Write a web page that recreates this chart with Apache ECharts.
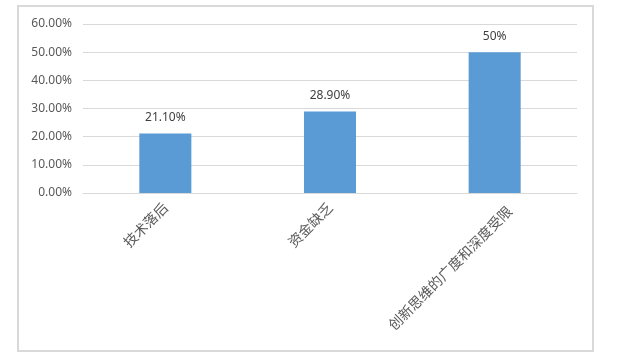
<!DOCTYPE html>
<html>
<head>
<meta charset="utf-8">
<script src="https://cdn.jsdelivr.net/npm/echarts@6/dist/echarts.min.js"></script>
<style>
html,body{margin:0;padding:0;background:#fff;}
#c{width:618px;height:357px;}
</style>
</head>
<body>
<div id="c"></div>
<script>
var categories = ['技术落后', '资金缺乏', '创新思维的广度和深度受限'];
var values = [0.211, 0.289, 0.5];
var valueLabels = ['21.10%', '28.90%', '50%'];
var yTicks = { min: 0, max: 0.6, interval: 0.1 };

var chart = echarts.init(document.getElementById('c'));
chart.setOption({
  animation: false,
  backgroundColor: '#fff',
  graphic: [{
    type: 'rect',
    shape: { x: 18, y: 6, width: 575, height: 345 },
    style: { fill: 'none', stroke: '#d9d9d9', lineWidth: 2 },
    silent: true
  }],
  grid: { left: 83, right: 41, top: 24, bottom: 164, containLabel: false },
  xAxis: {
    type: 'category',
    data: categories,
    axisLine: { lineStyle: { color: '#d9d9d9', width: 1 } },
    axisTick: { show: false },
    axisLabel: {
      rotate: 45,
      interval: 0,
      margin: 12,
      color: '#595959',
      fontSize: 14,
      fontFamily: 'Noto Sans CJK SC',
      formatter: function (v, i) {
        return i === 2 ? '{s|' + v + '}' : v;
      },
      rich: {
        s: {
          color: '#595959',
          fontSize: 14,
          fontFamily: 'Noto Sans CJK SC',
          padding: [26, -8, 0, 0]
        }
      }
    }
  },
  yAxis: {
    type: 'value',
    min: yTicks.min,
    max: yTicks.max,
    interval: yTicks.interval,
    axisLine: { show: false },
    axisTick: { show: false },
    splitLine: { lineStyle: { color: '#d9d9d9', width: 1 } },
    axisLabel: {
      margin: 11,
      color: '#595959',
      fontSize: 12,
      fontFamily: 'Noto Sans',
      formatter: function (v) { return (v * 100).toFixed(2) + '%'; }
    }
  },
  series: [{
    type: 'bar',
    data: values,
    barWidth: '31.6%',
    itemStyle: { color: '#5b9bd5' },
    label: {
      show: true,
      position: 'top',
      distance: 10,
      color: '#404040',
      fontSize: 12,
      fontFamily: 'Noto Sans',
      formatter: function (p) { return valueLabels[p.dataIndex]; }
    }
  }]
});
</script>
</body>
</html>
